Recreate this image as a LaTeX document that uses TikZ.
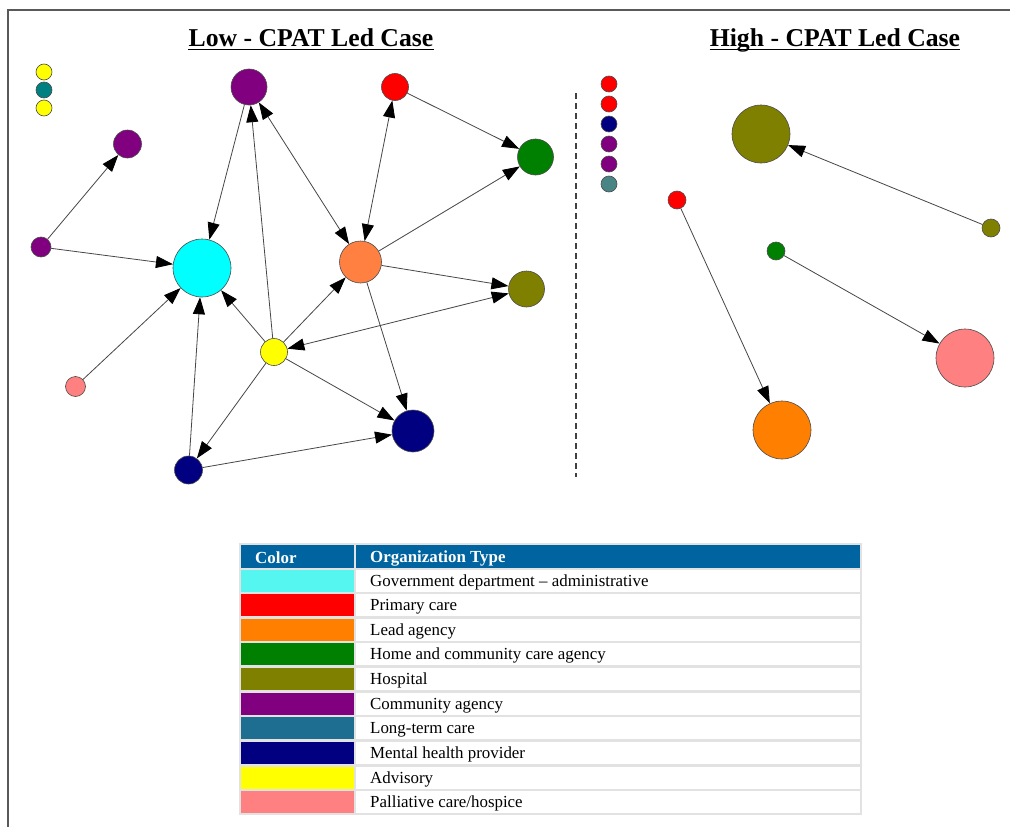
\documentclass[tikz,border=0pt]{standalone}
\usepackage{fontspec}
\setmainfont{Liberation Serif}
\usetikzlibrary{arrows.meta}
\definecolor{cyanN}{RGB}{0,255,255}
\definecolor{cyanL}{RGB}{85,245,240}
\definecolor{redN}{RGB}{255,0,0}
\definecolor{orangeN}{RGB}{255,128,64}
\definecolor{orangeL}{RGB}{255,128,0}
\definecolor{greenN}{RGB}{0,128,0}
\definecolor{oliveN}{RGB}{128,128,0}
\definecolor{purpleN}{RGB}{128,0,128}
\definecolor{teal1}{RGB}{0,128,128}
\definecolor{teal2}{RGB}{74,133,133}
\definecolor{ltcL}{RGB}{30,110,145}
\definecolor{navyN}{RGB}{0,0,128}
\definecolor{yellowN}{RGB}{255,255,0}
\definecolor{pinkN}{RGB}{255,128,128}
\definecolor{hdr}{RGB}{0,100,160}
\definecolor{grid}{RGB}{226,226,226}
\definecolor{edgec}{RGB}{70,70,70}
\tikzset{
  nd/.style={circle, draw=black!70, line width=0.6pt, inner sep=0pt, minimum size=#1},
  ar/.style={draw=edgec, line width=0.8pt, -{Triangle[length=17pt,width=12pt,color=black]}},
  bar/.style={draw=edgec, line width=0.8pt, {Triangle[length=17pt,width=12pt,color=black]}-{Triangle[length=17pt,width=12pt,color=black]}},
  ttl/.style={inner sep=0pt, font=\fontsize{25.7}{30}\selectfont\bfseries},
  cell/.style={inner sep=0pt, anchor=west, font=\fontsize{16.9}{20}\selectfont},
  hcell/.style={inner sep=0pt, anchor=west, text=white, font=\fontsize{16.9}{20}\selectfont\bfseries}
}
\begin{document}
\begin{tikzpicture}[x=1pt,y=-1pt]
\useasboundingbox (0,0) rectangle (1010,827);
\fill[white] (0,0) rectangle (1010,827);
% frame
\draw[black!65, line width=2pt] (8,827) -- (8,10) -- (1010,10);
% titles
\node[ttl, anchor=base] (tlow) at (311,46.5) {Low - CPAT Led Case};
\node[ttl, anchor=base] (thigh) at (835,46.5) {High - CPAT Led Case};
\draw[line width=1.8pt] ([yshift=-3pt]tlow.base west) -- ([yshift=-3pt]tlow.base east);
\draw[line width=1.8pt] ([yshift=-3pt]thigh.base west) -- ([yshift=-3pt]thigh.base east);
% isolated (low)
\node[nd=16pt, fill=yellowN] (iy1) at (44,72) {};
\node[nd=16pt, fill=teal1] (it1) at (44,90) {};
\node[nd=16pt, fill=yellowN] (iy2) at (44,108) {};
% low graph nodes
\node[nd=36pt, fill=purpleN] (P1) at (249,87) {};
\node[nd=28pt, fill=purpleN] (P2) at (127.5,144) {};
\node[nd=20pt, fill=purpleN] (P3) at (41,247) {};
\node[nd=58pt, fill=cyanN] (C) at (202,268) {};
\node[nd=27pt, fill=redN] (R) at (395,87) {};
\node[nd=36pt, fill=greenN] (G) at (535.5,157) {};
\node[nd=42pt, fill=orangeN] (O) at (360.5,262) {};
\node[nd=36pt, fill=oliveN] (Ol) at (526.5,289) {};
\node[nd=27pt, fill=yellowN] (Y) at (274,352) {};
\node[nd=42pt, fill=navyN] (N1) at (413,431) {};
\node[nd=28pt, fill=navyN] (N2) at (188.5,470) {};
\node[nd=20pt, fill=pinkN] (Pk) at (75.5,386.5) {};
% low graph edges
\draw[ar] (P1) -- (C);
\draw[ar] (P3) -- (P2);
\draw[ar] (P3) -- (C);
\draw[ar] (Pk) -- (C);
\draw[ar] (N2) -- (C);
\draw[ar] (Y) -- (C);
\draw[ar] (Y) -- (P1);
\draw[bar] (P1) -- (O);
\draw[bar] (R) -- (O);
\draw[ar] (R) -- (G);
\draw[ar] (O) -- (G);
\draw[ar] (Y) -- (O);
\draw[ar] (O) -- (Ol);
\draw[bar] (Y) -- (Ol);
\draw[ar] (O) -- (N1);
\draw[ar] (Y) -- (N1);
\draw[ar] (Y) -- (N2);
\draw[ar] (N2) -- (N1);
% divider
\draw[black!75, line width=1.5pt, dash pattern=on 6pt off 4pt] (576,93) -- (576,477);
% isolated (high)
\node[nd=16pt, fill=redN] (hr1) at (609,84) {};
\node[nd=16pt, fill=redN] (hr2) at (609,104) {};
\node[nd=16pt, fill=navyN] (hn1) at (609,124) {};
\node[nd=16pt, fill=purpleN] (hp1) at (609,144) {};
\node[nd=16pt, fill=purpleN] (hp2) at (609,164) {};
\node[nd=16pt, fill=teal2] (ht1) at (609,184) {};
% high graph
\node[nd=58pt, fill=oliveN] (HOl) at (761,134) {};
\node[nd=18pt, fill=oliveN] (HOs) at (991,228) {};
\node[nd=18pt, fill=redN] (HR) at (677,200) {};
\node[nd=58pt, fill=orangeL] (HO) at (782,430) {};
\node[nd=18pt, fill=greenN] (HG) at (776,251) {};
\node[nd=58pt, fill=pinkN] (HPk) at (965,358) {};
\draw[ar] (HOs) -- (HOl);
\draw[ar] (HR) -- (HO);
\draw[ar] (HG) -- (HPk);
% legend table
\fill[grid] (238.5,543) rectangle (861.5,815);
\fill[hdr] (240.5,545) rectangle (353.5,567.5);
\fill[hdr] (355.5,545) rectangle (859.5,567.5);
\node[hcell] (hc) at (255,558) {Color};
\node[hcell] (ho) at (370,558) {Organization Type};
\foreach \i/\c/\t in {0/cyanL/{Government department -- administrative},
  1/redN/{Primary care}, 2/orangeL/{Lead agency}, 3/greenN/{Home and community care agency},
  4/oliveN/{Hospital}, 5/purpleN/{Community agency}, 6/ltcL/{Long-term care},
  7/navyN/{Mental health provider}, 8/yellowN/{Advisory}, 9/pinkN/{Palliative care/hospice}}{
  \fill[\c] (240.5,569.5+24.65*\i) rectangle (353.5,591.5+24.65*\i);
  \fill[white] (355.5,569.5+24.65*\i) rectangle (859.5,591.5+24.65*\i);
  \node[cell] (row\i) at (370,582+24.65*\i) {\t};
}
\end{tikzpicture}
\end{document}
